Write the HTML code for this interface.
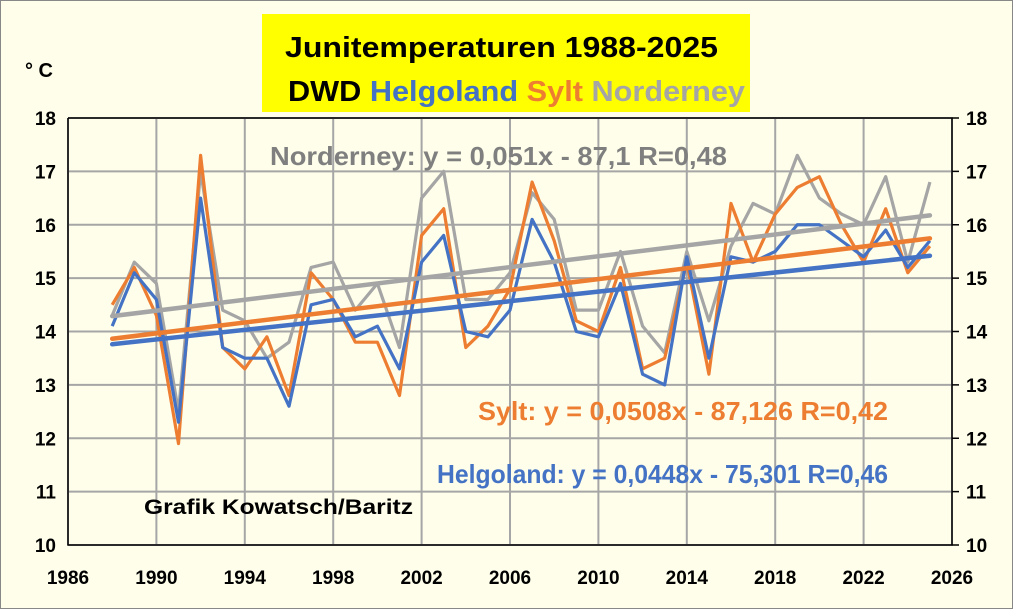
<!DOCTYPE html>
<html><head><meta charset="utf-8"><style>
body{margin:0;background:#fff}
svg{display:block;font-family:"Liberation Sans",sans-serif}
</style></head><body>
<svg width="1013" height="609" viewBox="0 0 1013 609">
<rect x="0.5" y="0.5" width="1012" height="608" fill="#FEFEEA" stroke="#888"/>
<rect x="262" y="14" width="488" height="98" fill="#FFFF00"/>
<text x="285" y="57" font-size="29" font-weight="bold" fill="#000" textLength="433" lengthAdjust="spacingAndGlyphs">Junitemperaturen 1988-2025</text>
<text x="288" y="101" font-size="29" font-weight="bold" textLength="457" lengthAdjust="spacingAndGlyphs"><tspan fill="#000">DWD </tspan><tspan fill="#4472C4">Helgoland </tspan><tspan fill="#ED7D31">Sylt </tspan><tspan fill="#A5A5A5">Norderney</tspan></text>
<text x="25" y="77" font-size="20" font-weight="bold" fill="#000">° C</text>
<g id="grid"></g>
<g id="series"></g>
<g id="labels"></g>
<text x="270" y="165" font-size="26" font-weight="bold" fill="#7F7F7F" textLength="457" lengthAdjust="spacingAndGlyphs">Norderney: y = 0,051x - 87,1 R=0,48</text>
<text x="478" y="420" font-size="26" font-weight="bold" fill="#ED7D31" textLength="410" lengthAdjust="spacingAndGlyphs">Sylt: y = 0,0508x - 87,126 R=0,42</text>
<text x="437" y="483" font-size="26" font-weight="bold" fill="#4472C4" textLength="451" lengthAdjust="spacingAndGlyphs">Helgoland: y = 0,0448x - 75,301 R=0,46</text>
<text x="144" y="514" font-size="21" font-weight="bold" fill="#000" textLength="269" lengthAdjust="spacingAndGlyphs">Grafik Kowatsch/Baritz</text>
</svg>
<script>
const years=[1988,1989,1990,1991,1992,1993,1994,1995,1996,1997,1998,1999,2000,2001,2002,2003,2004,2005,2006,2007,2008,2009,2010,2011,2012,2013,2014,2015,2016,2017,2018,2019,2020,2021,2022,2023,2024,2025];
const helgoland=[14.1,15.1,14.6,12.3,16.5,13.7,13.5,13.5,12.6,14.5,14.6,13.9,14.1,13.3,15.3,15.8,14.0,13.9,14.4,16.1,15.3,14.0,13.9,14.9,13.2,13.0,15.4,13.5,15.4,15.3,15.5,16.0,16.0,15.7,15.4,15.9,15.2,15.7];
const sylt=[14.5,15.2,14.3,11.9,17.3,13.7,13.3,13.9,12.8,15.1,14.6,13.8,13.8,12.8,15.8,16.3,13.7,14.1,14.8,16.8,15.7,14.2,14.0,15.2,13.3,13.5,15.3,13.2,16.4,15.3,16.2,16.7,16.9,16.0,15.3,16.3,15.1,15.6];
const norderney=[14.3,15.3,14.9,12.5,17.0,14.4,14.2,13.5,13.8,15.2,15.3,14.4,14.9,13.7,16.5,17.0,14.6,14.6,15.1,16.6,16.1,14.4,14.4,15.5,14.1,13.6,15.5,14.2,15.6,16.4,16.2,17.3,16.5,16.2,16.0,16.9,15.3,16.8];
const trendSlopes=[0.0448,0.0508,0.051];
const trendIntercepts=[-75.301,-87.126,-87.1];
const xTicks=[1986,1990,1994,1998,2002,2006,2010,2014,2018,2022,2026];
const yTicks=[10,11,12,13,14,15,16,17,18];
const NS="http://www.w3.org/2000/svg";
const L=68,R=952,T=118,B=545;
const x=v=>L+(v-1986)/40*(R-L);
const y=v=>B-(v-10)/8*(B-T);
function mk(tag,attrs,parent){const e=document.createElementNS(NS,tag);for(const k in attrs)e.setAttribute(k,attrs[k]);document.getElementById(parent).appendChild(e);return e;}
xTicks.forEach(t=>{const e=mk('line',{x1:x(t),x2:x(t),y1:T,y2:B,stroke:'#A6A6A6','stroke-width':2},'grid');


const l=mk('text',{x:x(t),y:B+39,'text-anchor':'middle','font-size':19,'font-weight':'bold',fill:'#000'},'labels');l.textContent=t;

});
yTicks.forEach(t=>{const e=mk('line',{x1:L,x2:R,y1:y(t),y2:y(t),stroke:'#A6A6A6','stroke-width':2},'grid');


const l=mk('text',{x:56,y:y(t)+7,'text-anchor':'end','font-size':19,'font-weight':'bold',fill:'#000'},'labels');l.textContent=t;


const r=mk('text',{x:966,y:y(t)+7,'font-size':19,'font-weight':'bold',fill:'#000'},'labels');r.textContent=t;


const tk=mk('line',{x1:R,x2:R+7,y1:y(t),y2:y(t),stroke:'#000','stroke-width':1.5},'grid');

});
const ax=mk('path',{d:`M${L},${T}V${B}H${R}V${T}H${L}`,fill:'none',stroke:'#000','stroke-width':1.5},'grid');


const sets=[[norderney,'#A5A5A5','norderney'],[sylt,'#ED7D31','sylt'],[helgoland,'#4472C4','helgoland']];
sets.forEach(([d,c,n])=>{const p=mk('polyline',{points:d.map((v,i)=>x(years[i])+','+y(v)).join(' '),fill:'none',stroke:c,'stroke-width':3.2,'stroke-linejoin':'round'},'series');

});
const tc=['#4472C4','#ED7D31','#A5A5A5'],tn=['helgoland','sylt','norderney'];
[2,1,0].forEach(i=>{const x0=years[0],x1=years[years.length-1];
const p=mk('line',{x1:x(x0),y1:y(trendSlopes[i]*x0+trendIntercepts[i]),x2:x(x1),y2:y(trendSlopes[i]*x1+trendIntercepts[i]),stroke:tc[i],'stroke-width':4.5,'stroke-linecap':'round'},'series');

});
</script>
</body></html>
